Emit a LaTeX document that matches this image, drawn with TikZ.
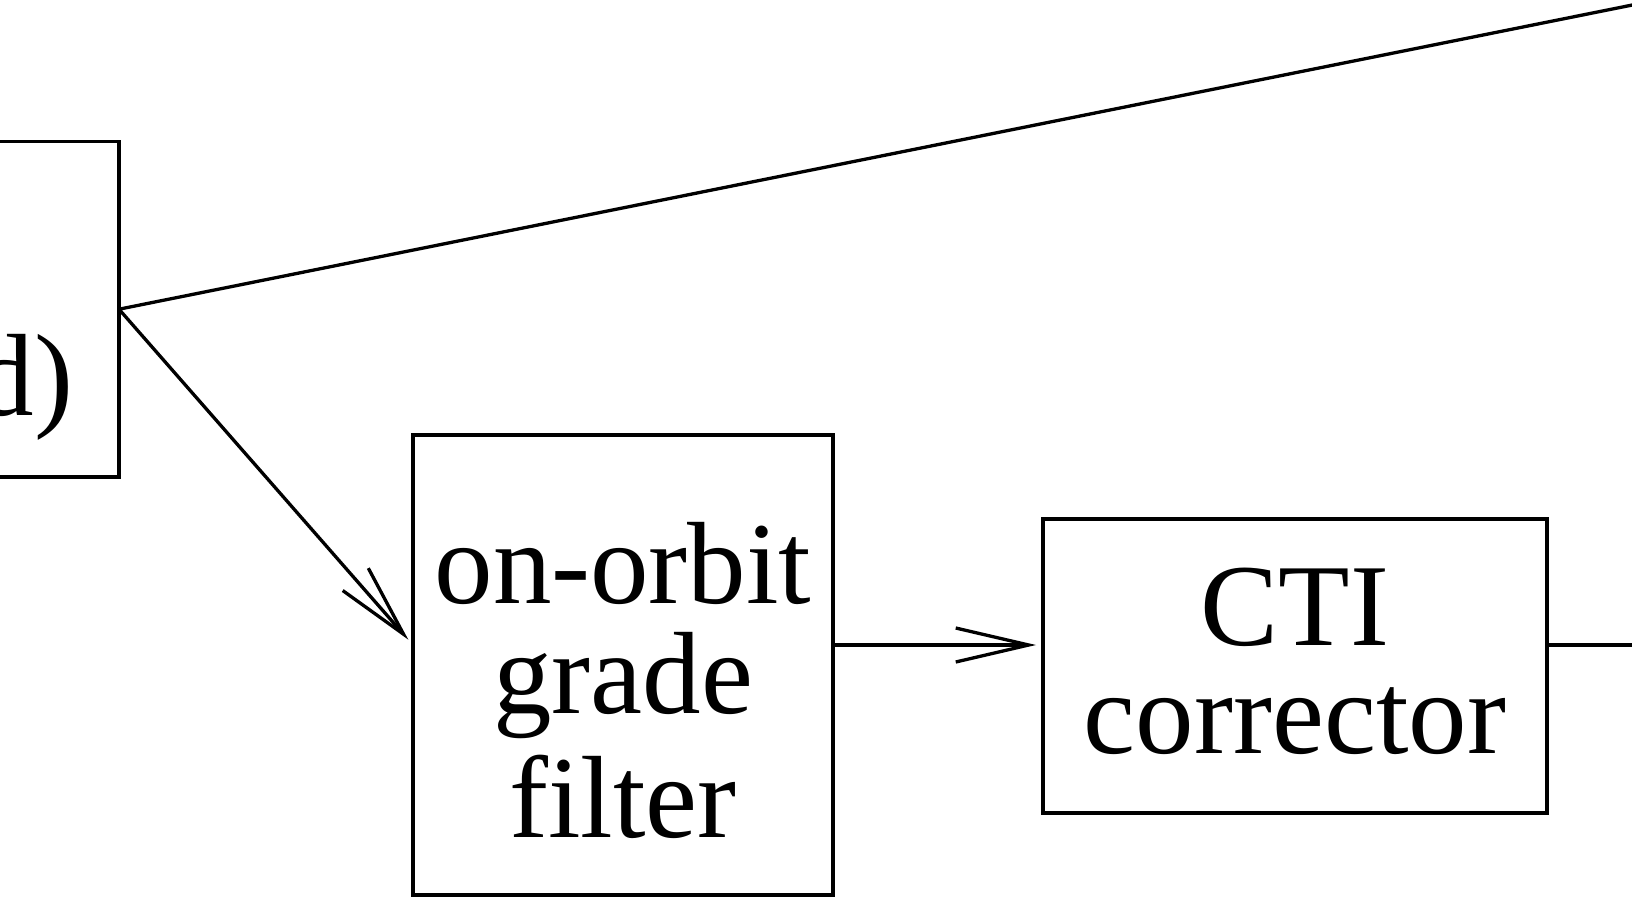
\documentclass[tikz,border=0pt]{standalone}
\usepackage{fontspec}
\setmainfont{Liberation Serif}
\usetikzlibrary{arrows.meta}

\tikzset{
  box/.style={draw, rectangle, line width=3.3pt, outer sep=0pt, inner sep=0pt},
  lbl/.style={inner sep=0pt, outer sep=0pt, align=center, font=\fontsize{117}{110}\selectfont},
  link/.style={line width=3.3pt},
  arr/.style={link, -{Straight Barb[length=73pt, width=34pt]}, shorten >=7pt},
}

\begin{document}
\begin{tikzpicture}[x=1pt, y=-1pt]
  \useasboundingbox (0,0) rectangle (1632,899);

  % processing blocks
  \node[box, minimum width=419pt, minimum height=335.5pt] (src) at (-90.5,309.2) {};
  \node[lbl, anchor=base east] (srctxt) at (73,415) {d)};

  \node[box, minimum width=420pt, minimum height=460pt] (filter) at (623,665) {};
  \node[lbl, anchor=base] (filtertxt) at (623,837) {on-orbit\\grade\\[14pt]filter};

  \node[box, minimum width=504pt, minimum height=294pt] (cti) at (1295,666) {};
  \node[lbl, anchor=base, font=\fontsize{117}{108}\selectfont] (ctitxt) at (1295,753) {CTI\\corrector};

  % free ends of the outgoing lines
  \coordinate (up) at (1800,-28.7);
  \coordinate (out) at (1700,645);

  % connectors
  \draw[link] (src.east) -- (up);
  \draw[arr] (src.east) -- ([yshift=20pt]filter.west);
  \draw[arr] ([yshift=20pt]filter.east) -- ([yshift=21pt]cti.west);
  \draw[link] ([yshift=21pt]cti.east) -- (out);
\end{tikzpicture}
\end{document}
